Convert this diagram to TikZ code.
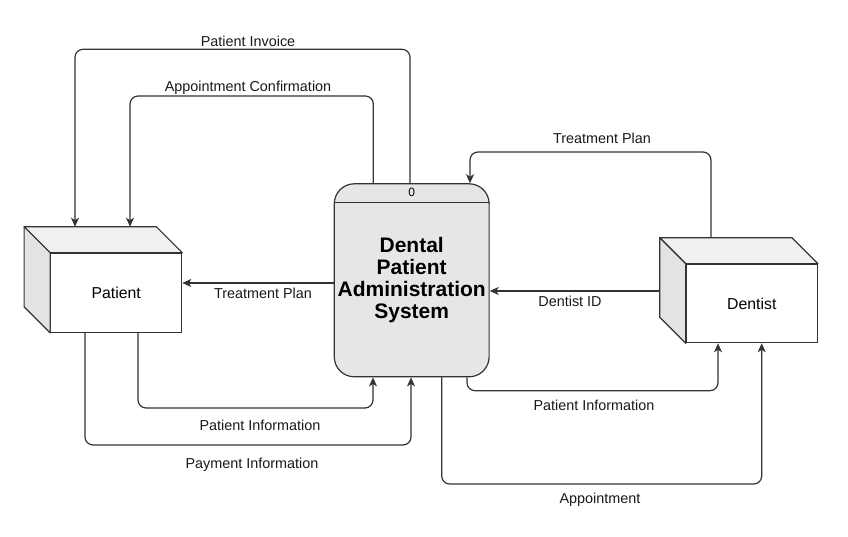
\documentclass[tikz,border=0pt]{standalone}
\usepackage{fontspec}
\setmainfont{Liberation Sans}
\usetikzlibrary{positioning,arrows.meta,calc}
\definecolor{linegray}{HTML}{333333}
\definecolor{procfill}{HTML}{E6E6E6}
\tikzset{
	every picture/.style={
		>={Stealth[length=9pt,width=8pt,inset=2.5pt]}
}}
\tikzset{
	flow/.style={->,draw=linegray,line width=1.2pt,rounded corners=8pt},
	lbl/.style={font=\fontsize{14.4}{16}\selectfont,text=black!90,inner sep=1pt},
	process/.style={draw=linegray,fill=procfill,line width=1.2pt,rounded corners=20pt,
		minimum width=153pt,minimum height=193pt,align=center,
		font=\fontsize{21}{22}\bfseries},
	entity/.style={draw=linegray,fill=white,line width=1.2pt,
		minimum width=131pt,minimum height=79pt,font=\fontsize{15.8}{18}\selectfont},
	face/.style={draw=linegray,line width=1.2pt,line join=round}
}
% top and side faces of an entity box
\newcommand\cubefaces[1]{%
	\coordinate (#1-bk) at ($(#1.north west)+(-26,-26)$);
	\filldraw[face,fill=gray!12] (#1.north west) -- (#1-bk) -- ($(#1.north east)+(-26,-26)$) -- (#1.north east) -- cycle;
	\filldraw[face,fill=gray!22] (#1.north west) -- (#1-bk) -- ($(#1.south west)+(-26,-26)$) -- (#1.south west) -- cycle;
}

\begin{document}
\begin{tikzpicture}[x=1pt,y=-1pt]
\useasboundingbox (0,0) rectangle (848,537);
% process
\node[process] (dpas) at (411.7,280.3) {Dental\\Patient\\Administration\\System};
\draw[linegray,line width=1.2pt] ([yshift=-19.3pt]dpas.north west) -- ([yshift=-19.3pt]dpas.north east);
\node[font=\fontsize{12}{12}\selectfont] (zero) at ([yshift=-9.5pt]dpas.north) {0};
% entities
\node[entity] (patient) at (116.2,292.8) {Patient};
\cubefaces{patient}
\node[entity,minimum height=78.4pt] (dentist) at (751.8,303.5) {Dentist};
\cubefaces{dentist}
% flows to and from the patient
\coordinate (inv) at (75,49.3);
\draw[flow] ([xshift=-1.7pt]dpas.north) |- (inv) -- (inv |- patient-bk);
\coordinate (conf) at (130,96);
\draw[flow] ([xshift=-38.4pt]dpas.north) |- (conf) -- (conf |- patient-bk);
\coordinate (tpl) at ([yshift=-2.7pt]dpas.west);
\draw[flow] (tpl) -- (patient.east |- tpl);
\coordinate (pinf) at (138,408);
\draw[flow] (pinf |- patient.south) -- (pinf) -| ([xshift=-38.7pt]dpas.south);
\coordinate (pay) at (85,445);
\draw[flow] (pay |- patient.south) -- (pay) -| ([xshift=-0.7pt]dpas.south);
% flows to and from the dentist
\coordinate (tpr) at (711,152);
\draw[flow] (tpr |- dentist-bk) -- (tpr) -| ([xshift=58.3pt]dpas.north);
\coordinate (did) at ([yshift=-10.7pt]dpas.east);
\draw[flow] (did -| dentist-bk) -- (did);
\coordinate (pind) at (718,390.7);
\draw[flow] ([xshift=55.3pt]dpas.south) |- (pind) -- (pind |- dentist.south);
\coordinate (appt) at (761.7,484);
\draw[flow] ([xshift=30pt]dpas.south) |- (appt) -- (appt |- dentist.south);
% labels
\node[lbl] (l-inv) at (248,41) {Patient Invoice};
\node[lbl] (l-conf) at (248,87.3) {Appointment Confirmation};
\node[lbl] (l-tpl) at (263,293) {Treatment Plan};
\node[lbl] (l-pinf) at (260,425) {Patient Information};
\node[lbl] (l-pay) at (252,465) {Payment Information};
\node[lbl] (l-tpr) at (602,138) {Treatment Plan};
\node[lbl] (l-did) at (570,301) {Dentist ID};
\node[lbl] (l-pind) at (594,405) {Patient Information};
\node[lbl] (l-appt) at (600,500) {Appointment};
\end{tikzpicture}
\end{document}
